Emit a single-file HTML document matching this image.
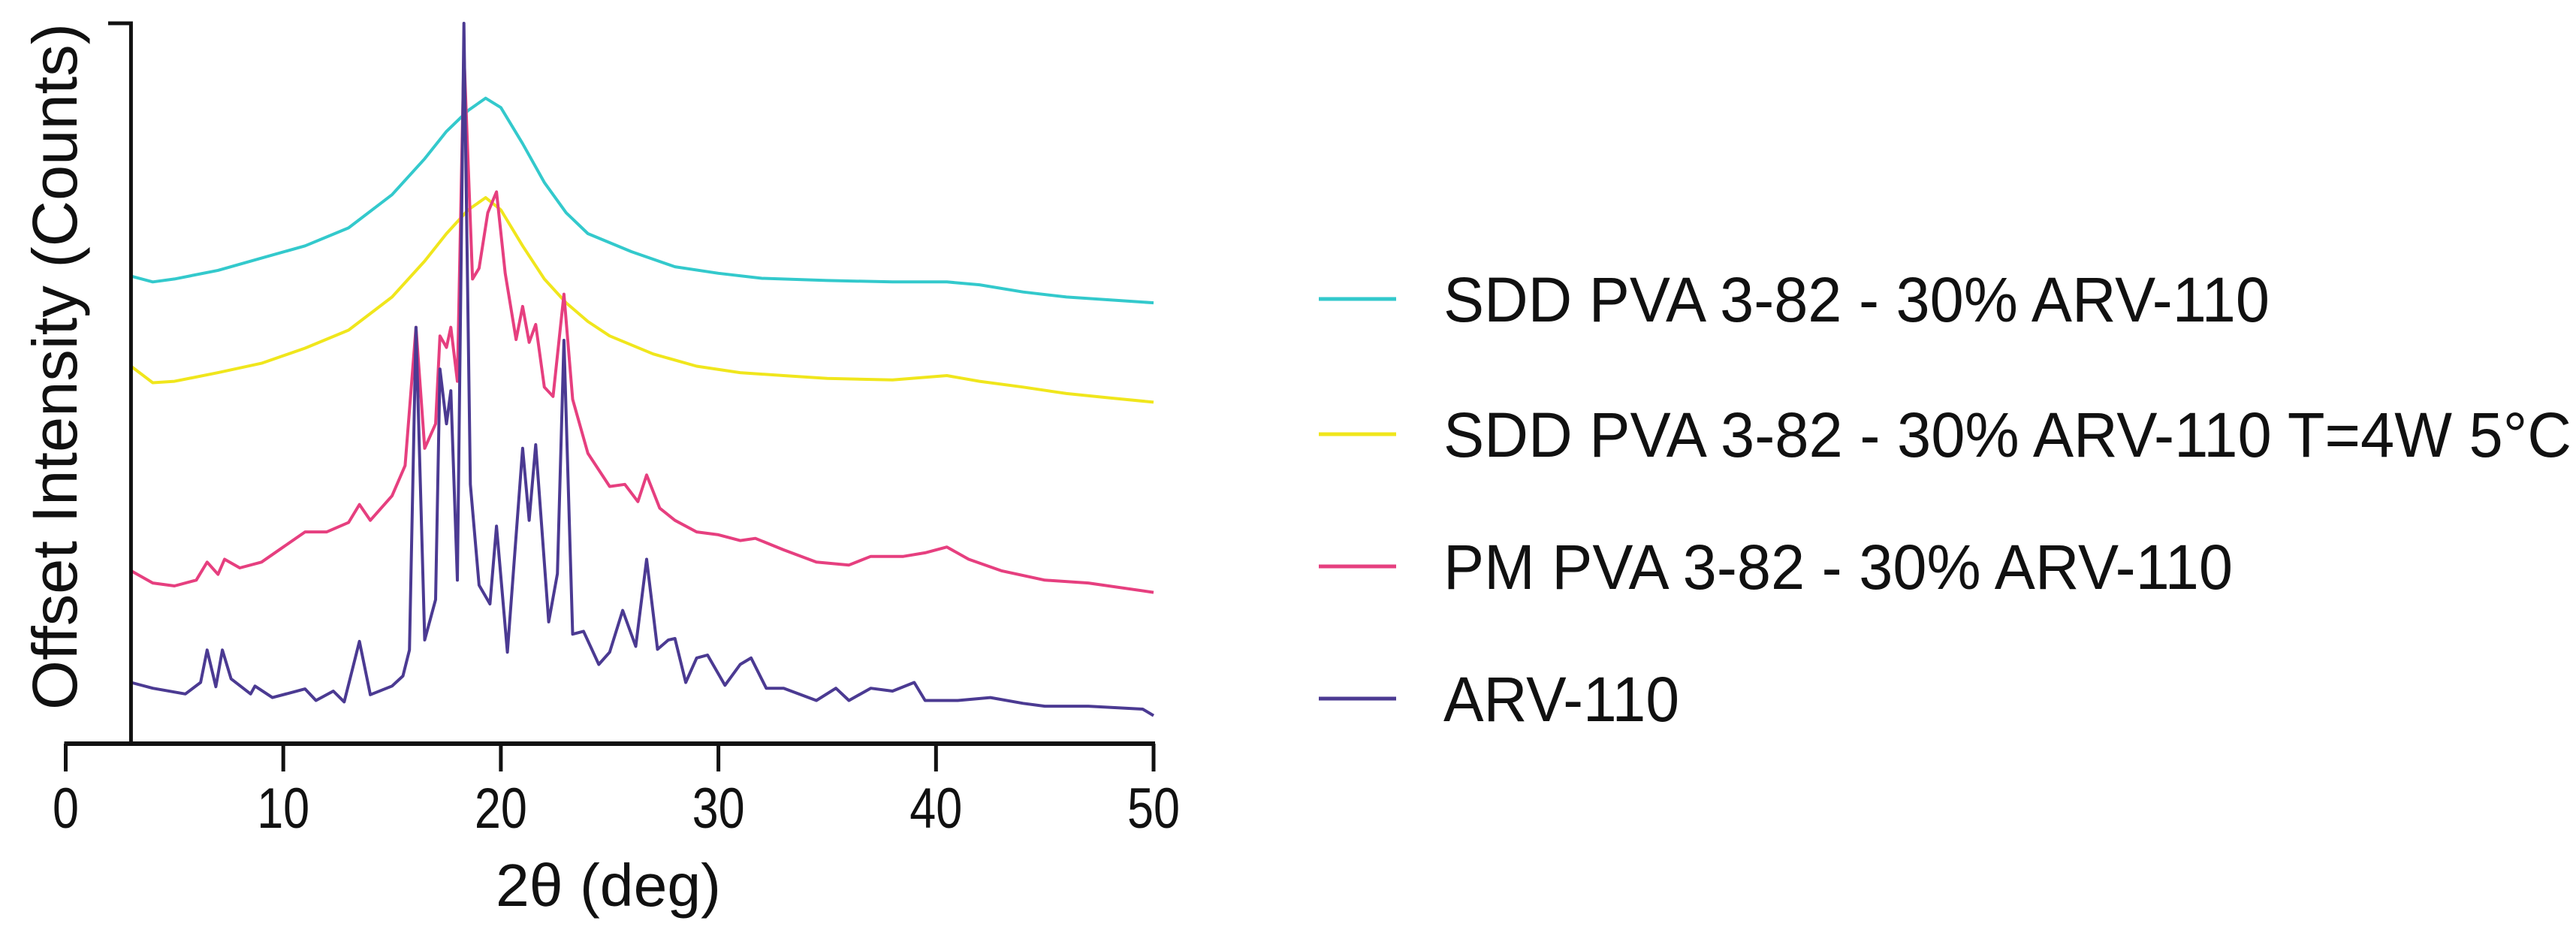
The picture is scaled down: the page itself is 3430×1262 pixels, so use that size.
<!DOCTYPE html>
<html><head><meta charset="utf-8"><style>
html,body{margin:0;padding:0;background:#fff;}
svg{display:block;font-family:"Liberation Sans",Arial,sans-serif;}
</style></head><body>
<svg id="chart" width="3430" height="1262" viewBox="0 0 3430 1262" xmlns="http://www.w3.org/2000/svg">
<g id="plot"></g>
<g id="axes"></g>
<g id="legend"></g>
</svg>
<script>
const xTicks = [0,10,20,30,40,50];
const seriesNames = ["SDD PVA 3-82 - 30% ARV-110","SDD PVA 3-82 - 30% ARV-110 T=4W 5°C","PM PVA 3-82 - 30% ARV-110","ARV-110"];
const arvX = [3,4,5.5,6.2,6.5,6.9,7.2,7.6,8.5,8.7,9.5,11,11.5,12.3,12.8,13.5,14,15,15.5,15.8,16.1,16.5,17,17.2,17.5,17.7,18,18.3,18.6,19,19.5,19.8,20.3,21,21.3,21.6,22.2,22.6,22.9,23.3,23.8,24.5,25,25.6,26.2,26.7,27.2,27.7,28,28.5,29,29.5,30.3,31,31.5,32.2,33,34.5,35.4,36,37,38,39,39.5,41,42.5,44,45,47,49.5,50];
const arvY = [8.5,7.7,6.9,8.5,13,7.9,13,9,6.9,8,6.4,7.6,6,7.3,5.8,14.2,6.8,8,9.4,13,57.8,14.4,20,52,44.4,49,22.7,100,36,22,19.4,30.2,12.7,41,31,41.5,16.9,23.6,56,15.2,15.6,11,12.7,18.5,13.5,25.6,13.1,14.4,14.6,8.5,11.9,12.3,8.1,11,11.9,7.7,7.7,6,7.7,6,7.7,7.3,8.5,6,6,6.4,5.6,5.2,5.2,4.8,3.9];
const pmX = [3,4,5,6,6.5,7,7.3,8,9,10,11,12,13,13.5,14,15,15.6,16.1,16.5,17,17.2,17.5,17.7,18,18.3,18.7,19,19.4,19.8,20.2,20.7,21,21.3,21.6,22,22.4,22.9,23.3,24,25,25.7,26.3,26.7,27.3,28,29,30,31,31.7,33,34.5,36,37,38.5,39.5,40.5,41.5,43,45,47,50];
const pmY = [24,22.3,21.9,22.7,25.2,23.5,25.6,24.4,25.2,27.3,29.4,29.4,30.7,33.2,31,34.4,38.6,57.8,41,44.4,56.6,55,57.8,50.3,96,64.5,66,73.7,76.6,65.3,56.1,60.7,55.7,58.2,49.5,48.2,62.4,47.8,40.3,35.7,36,33.6,37.3,32.7,31,29.4,29,28.2,28.5,26.9,25.2,24.8,26,26,26.5,27.3,25.6,24,22.7,22.3,21];
const yelX = [3,4,5,7,9,11,13,15,16.5,17.5,18.5,19.3,20,21,22,23,24,25,27,29,31,33,35,38,40.5,42,44,46,48,50];
const yelY = [52.4,50.1,50.3,51.5,52.8,54.9,57.4,62,67,70.8,74.1,75.8,74.1,69.1,64.5,61.2,58.6,56.6,54.1,52.4,51.5,51.1,50.7,50.5,51.1,50.3,49.5,48.6,48,47.4];
const cyX = [3,4,5,7,9,11,13,15,16.5,17.5,18.5,19.3,20,21,22,23,24,26,28,30,32,35,38,40.5,42,44,46,48,50];
const cyY = [64.9,64.1,64.5,65.7,67.4,69.1,71.6,76.2,81.2,85,87.9,89.6,88.3,83.3,77.9,73.7,70.8,68.3,66.2,65.3,64.6,64.3,64.1,64.1,63.7,62.7,62,61.6,61.2];

const NS="http://www.w3.org/2000/svg";
const X0=87.5, X1=1536, YB=990, YT=31;
function xs(v){return X0+(v-0)/(50-0)*(X1-X0);}
function ys(v){return YB-(v/100)*(YB-YT);}
function mk(tag,attrs,parent){const e=document.createElementNS(NS,tag);for(const k in attrs)e.setAttribute(k,attrs[k]);parent.appendChild(e);return e;}
const plot=document.getElementById('plot'), axes=document.getElementById('axes'), legend=document.getElementById('legend');
const colors=["#33c9cc","#f0e61c","#e63f7f","#4b3a92"];
const series=[[cyX,cyY],[yelX,yelY],[pmX,pmY],[arvX,arvY]];
const snames=['series-sdd','series-sdd-4w','series-pm','series-arv110'];
series.forEach((s,i)=>{
  const d=s[0].map((x,j)=>(j?'L':'M')+xs(x).toFixed(1)+','+ys(s[1][j]).toFixed(1)).join(' ');
  const p=mk('path',{d:d,fill:'none',stroke:colors[i],'stroke-width':4,'stroke-linejoin':'round'},plot);
  
  
});
const ya=mk('path',{d:`M144,${YT} L${xs(3)},${YT} L${xs(3)},${YB}`,fill:'none',stroke:'#111','stroke-width':5},axes);


const xa=mk('line',{x1:X0-2,y1:YB,x2:X1+2,y2:YB,stroke:'#111','stroke-width':6},axes);


xTicks.forEach(t=>{
  const tk=mk('line',{x1:xs(t),y1:YB,x2:xs(t),y2:1027,stroke:'#111','stroke-width':5},axes);
  
  
  const s=String(t);
  const tl=mk('text',{x:xs(t),y:1102,'text-anchor':'middle','font-size':76,fill:'#111',textLength:s.length*35,lengthAdjust:'spacingAndGlyphs'},axes);
  tl.textContent=s;
  
  
});
const xt=mk('text',{x:810,y:1206,'text-anchor':'middle','font-size':80,fill:'#111',textLength:300,lengthAdjust:'spacingAndGlyphs'},axes);
xt.textContent='2θ (deg)';


const yt=mk('text',{x:0,y:0,'text-anchor':'middle','font-size':84,fill:'#111',transform:'translate(102,488) rotate(-90)',textLength:914,lengthAdjust:'spacingAndGlyphs'},axes);
yt.textContent='Offset Intensity (Counts)';


const ly=[398,578,754,930];
const lw=[1100,1502,1051,314];
seriesNames.forEach((n,i)=>{
  const g=mk('g',{},legend);
  
  
  const l=mk('line',{x1:1756,y1:ly[i],x2:1859,y2:ly[i],stroke:colors[i],'stroke-width':5},g);
  
  
  const t=mk('text',{x:1922,y:ly[i]+30,'font-size':84,fill:'#111',textLength:lw[i],lengthAdjust:'spacingAndGlyphs'},g);
  t.textContent=n;
  
  
});
</script>
</body></html>
